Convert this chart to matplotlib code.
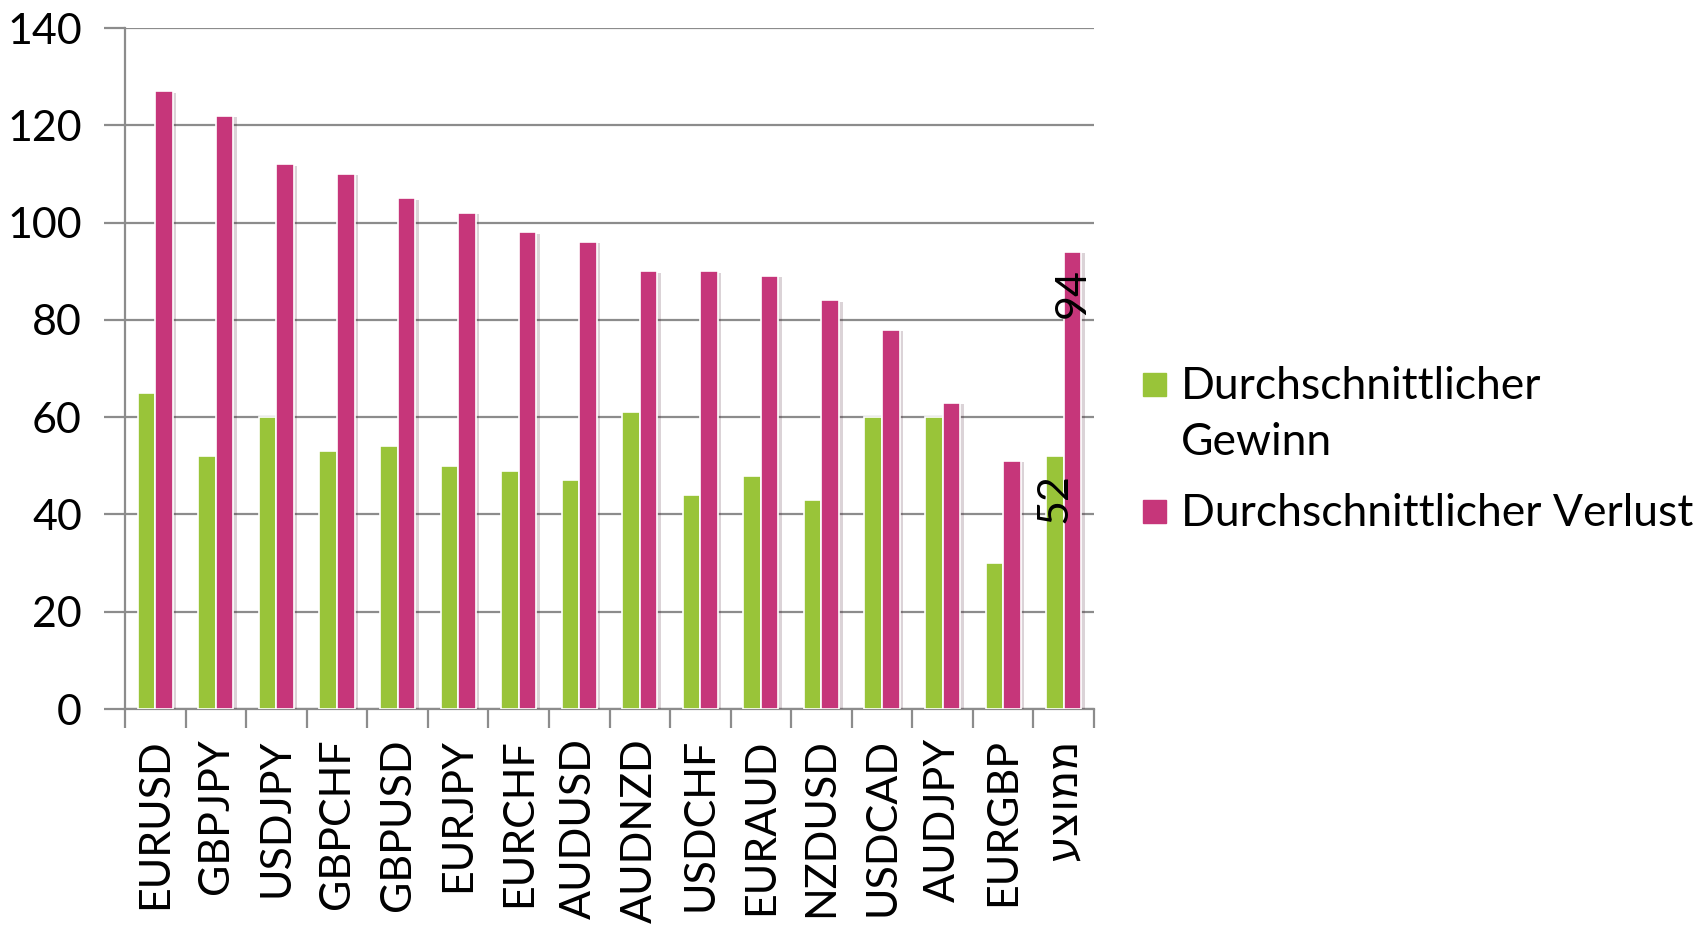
import numpy as np
import matplotlib
matplotlib.use('Agg')
import matplotlib.pyplot as plt
import matplotlib.patheffects as pe
from matplotlib.patches import Rectangle

plt.rcParams['font.family'] = ['Lato', 'DejaVu Sans']

# category labels (Hebrew one reversed so the glyphs come out in visual order)
pairs = ['EURUSD', 'GBPJPY', 'USDJPY', 'GBPCHF', 'GBPUSD', 'EURJPY', 'EURCHF', 'AUDUSD',
         'AUDNZD', 'USDCHF', 'EURAUD', 'NZDUSD', 'USDCAD', 'AUDJPY', 'EURGBP', 'ממוצע'[::-1]]
gain = [65, 52, 60, 53, 54, 50, 49, 47, 61, 44, 48, 43, 60, 60, 30, 52]
loss = [127, 122, 112, 110, 105, 102, 98, 96, 90, 90, 89, 84, 78, 63, 51, 94]
series_names = [['Durchschnittlicher', 'Gewinn'], ['Durchschnittlicher Verlust']]
colors = ['#99C439', '#C6367A']

W, H = 1708, 946
fig = plt.figure(figsize=(W / 100, H / 100), dpi=100)
ax = fig.add_axes([125 / W, 1 - 709 / H, 969 / W, 681 / H])

x = np.arange(len(pairs))
w = 0.29
shadow = [pe.SimplePatchShadow(offset=(2.5, -1), alpha=0.18), pe.Normal()]
b1 = ax.bar(x - w / 2, gain, w, color=colors[0], edgecolor='white', linewidth=1.2, zorder=3)
b2 = ax.bar(x + w / 2, loss, w, color=colors[1], edgecolor='white', linewidth=1.2, zorder=3)
for b in list(b1) + list(b2):
    b.set_path_effects(shadow)

# data labels on the last (average) group
for xi, v in [(x[-1] - w / 2, gain[-1]), (x[-1] + w / 2, loss[-1])]:
    ax.annotate(str(v), (xi, v), xytext=(0, -12), textcoords='offset points',
                rotation=90, ha='center', va='top', fontsize=31, zorder=4)

ax.set_ylim(0, 140)
ax.set_xlim(-0.5, len(pairs) - 0.5)
ax.set_yticks(np.arange(0, 141, 20))
ax.yaxis.grid(True, color='#8c8c8c', linewidth=1.6, zorder=0)
ax.set_axisbelow(True)

ax.set_xticks(x)
ax.set_xticklabels(pairs, rotation=90, fontsize=31)
ax.set_xticks(np.arange(-0.5, len(pairs), 1), minor=True)
ax.tick_params(axis='x', which='major', length=0, pad=21)
ax.tick_params(axis='x', which='minor', length=14, width=1.6, color='#8c8c8c')
ax.tick_params(axis='y', length=15, width=1.6, color='#8c8c8c', labelsize=31, pad=16)

for s in ['top', 'right']:
    ax.spines[s].set_visible(False)
for s in ['left', 'bottom']:
    ax.spines[s].set_color('#8c8c8c')
    ax.spines[s].set_linewidth(1.6)

# legend, drawn by hand so the square sits on the first text line
baselines = [[399, 455], [526]]
for col, lines, bl in zip(colors, series_names, baselines):
    fig.add_artist(Rectangle((1143 / W, 1 - (bl[0] - 3) / H), 23 / W, 23 / H,
                             transform=fig.transFigure, color=col))
    for txt, y in zip(lines, bl):
        fig.text(1181 / W, 1 - y / H, txt, fontsize=32, va='baseline', ha='left')

fig.savefig('out.png', dpi=100)
